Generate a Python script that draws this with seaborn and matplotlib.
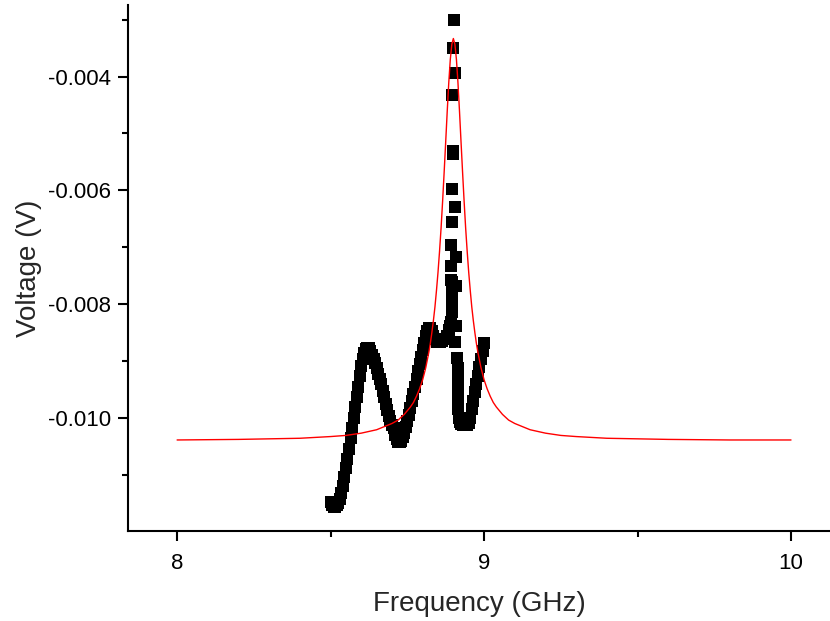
import matplotlib
matplotlib.use("Agg")
import matplotlib.pyplot as plt
from matplotlib.ticker import MultipleLocator, FormatStrFormatter
import seaborn as sns
import pandas as pd

# ---- measured data (black squares) ----
data_freq = [
    8.500, 8.505, 8.510, 8.515, 8.520, 8.525, 8.530, 8.535, 8.540, 8.545,
    8.550, 8.555, 8.560, 8.565, 8.570, 8.575, 8.580, 8.585, 8.590, 8.595,
    8.600, 8.605, 8.610, 8.615, 8.620, 8.625, 8.630, 8.635, 8.640, 8.645,
    8.650, 8.655, 8.660, 8.665, 8.670, 8.675, 8.680, 8.685, 8.690, 8.695,
    8.700, 8.705, 8.710, 8.715, 8.720, 8.725, 8.730, 8.735, 8.740, 8.745,
    8.750, 8.755, 8.760, 8.765, 8.770, 8.775, 8.780, 8.785, 8.790, 8.795,
    8.800, 8.805, 8.810, 8.815, 8.820, 8.825, 8.830, 8.835, 8.840, 8.848,
    8.856, 8.864, 8.872, 8.880, 8.885, 8.888, 8.892,
    8.894, 8.894, 8.894, 8.894, 8.896, 8.893, 8.893, 8.893, 8.896, 8.896,
    8.898, 8.899, 8.896, 8.899, 8.902, 8.906, 8.906, 8.909, 8.909, 8.905,
    8.908, 8.911,
    8.915, 8.915, 8.915, 8.915, 8.916, 8.917, 8.920,
    8.926, 8.932, 8.938, 8.944, 8.950,
    8.955, 8.960, 8.965, 8.970, 8.975, 8.980, 8.985, 8.990, 8.995, 9.000,
]
data_volt = [
    -0.01148, -0.01154, -0.01156, -0.01156, -0.01154, -0.01150, -0.01142, -0.01133, -0.01120, -0.01104,
    -0.01089, -0.01073, -0.01055, -0.01036, -0.01018, -0.01000, -0.00981, -0.00963, -0.00945, -0.00926,
    -0.00909, -0.00896, -0.00886, -0.00879, -0.00877, -0.00878, -0.00882, -0.00889, -0.00896, -0.00904,
    -0.00913, -0.00923, -0.00932, -0.00941, -0.00952, -0.00963, -0.00975, -0.00986, -0.00996, -0.01005,
    -0.01012, -0.01018, -0.01030, -0.01038, -0.01042, -0.01042, -0.01040, -0.01034, -0.01026, -0.01016,
    -0.01006, -0.00995, -0.00983, -0.00970, -0.00958, -0.00945, -0.00932, -0.00918, -0.00905, -0.00893,
    -0.00880, -0.00868, -0.00857, -0.00848, -0.00842, -0.00842, -0.00848, -0.00856, -0.00862, -0.00866,
    -0.00866, -0.00865, -0.00862, -0.00856, -0.00845, -0.00838, -0.00832,
    -0.00814, -0.00802, -0.00792, -0.00782, -0.00761, -0.00758, -0.00733, -0.00696, -0.00656, -0.00598,
    -0.00530, -0.00536, -0.00433, -0.00349, -0.00300, -0.00393, -0.00630, -0.00718, -0.00768, -0.00866,
    -0.00838, -0.00894,
    -0.00912, -0.00930, -0.00948, -0.00966, -0.00984, -0.01000, -0.01008,
    -0.01011, -0.01012, -0.01012, -0.01012, -0.01010,
    -0.01000, -0.00985, -0.00970, -0.00955, -0.00940, -0.00926, -0.00911, -0.00897, -0.00882, -0.00868,
]

# ---- fitted curve (red line) ----
fit_freq = [
    8.000, 8.200, 8.400, 8.500, 8.550, 8.600, 8.650, 8.700, 8.720, 8.740,
    8.760, 8.770, 8.780, 8.790, 8.800, 8.810, 8.820, 8.825, 8.830, 8.835,
    8.840, 8.845, 8.850, 8.855, 8.860, 8.865, 8.870, 8.875, 8.880, 8.885,
    8.890, 8.895, 8.900, 8.905, 8.910, 8.915, 8.920, 8.925, 8.930, 8.935,
    8.940, 8.945, 8.950, 8.955, 8.960, 8.965, 8.970, 8.975, 8.980, 8.990,
    9.000, 9.010, 9.020, 9.030, 9.040, 9.060, 9.080, 9.100, 9.150, 9.200,
    9.250, 9.300, 9.400, 9.600, 9.800, 10.000,
]
fit_volt = [
    -0.01039, -0.01038, -0.01036, -0.01033, -0.01031, -0.01027, -0.01021, -0.01010, -0.01004, -0.00994,
    -0.00981, -0.00973, -0.00962, -0.00949, -0.00933, -0.00912, -0.00885, -0.00869, -0.00850, -0.00829,
    -0.00805, -0.00776, -0.00744, -0.00707, -0.00666, -0.00619, -0.00568, -0.00515, -0.00461, -0.00411,
    -0.00370, -0.00343, -0.00333, -0.00343, -0.00370, -0.00411, -0.00461, -0.00515, -0.00568, -0.00619,
    -0.00666, -0.00707, -0.00744, -0.00776, -0.00805, -0.00829, -0.00850, -0.00869, -0.00885, -0.00912,
    -0.00933, -0.00949, -0.00962, -0.00973, -0.00981, -0.00994, -0.01004, -0.01010, -0.01021, -0.01027,
    -0.01031, -0.01033, -0.01036, -0.01038, -0.01039, -0.01039,
]

x_ticks = [8, 9, 10]
y_ticks = [-0.010, -0.008, -0.006, -0.004]

sns.set_style("ticks")
plt.rcParams["font.family"] = ["Liberation Sans", "DejaVu Sans"]
plt.rcParams["axes.unicode_minus"] = False

df_data = pd.DataFrame({"freq": data_freq, "volt": data_volt})
df_fit = pd.DataFrame({"freq": fit_freq, "volt": fit_volt})

fig = plt.figure(figsize=(8.3, 6.21), dpi=100)
ax = fig.add_axes([0.1542, 0.145, 0.8458, 0.847])

sns.scatterplot(data=df_data, x="freq", y="volt", marker="s", s=76,
                color="black", linewidth=0, ax=ax, zorder=2)
sns.lineplot(data=df_fit, x="freq", y="volt", color="red", linewidth=1.0,
             sort=False, estimator=None, ax=ax, zorder=3)

ax.set_xlim(7.84, 10.127)
ax.set_ylim(-0.01199, -0.00274)
ax.set_xticks(x_ticks)
ax.set_yticks(y_ticks)
ax.xaxis.set_minor_locator(MultipleLocator(0.5))
ax.yaxis.set_minor_locator(MultipleLocator(0.001))
ax.yaxis.set_major_formatter(FormatStrFormatter("%.3f"))
ax.xaxis.set_major_formatter(FormatStrFormatter("%d"))

for side in ["top", "right"]:
    ax.spines[side].set_visible(False)
for side in ["left", "bottom"]:
    ax.spines[side].set_linewidth(1.5)
    ax.spines[side].set_color("black")

ax.tick_params(which="major", direction="out", length=7.2, width=1.5,
               labelsize=16, color="black", labelcolor="black")
ax.tick_params(axis="y", which="major", pad=5)
ax.tick_params(axis="x", which="major", pad=9)
ax.tick_params(which="minor", direction="out", length=4, width=1.5, color="black")

ax.set_xlabel("Frequency (GHz)", fontsize=20, labelpad=12)
ax.set_ylabel("Voltage (V)", fontsize=20, labelpad=4)

fig.savefig("out.png", dpi=100)
